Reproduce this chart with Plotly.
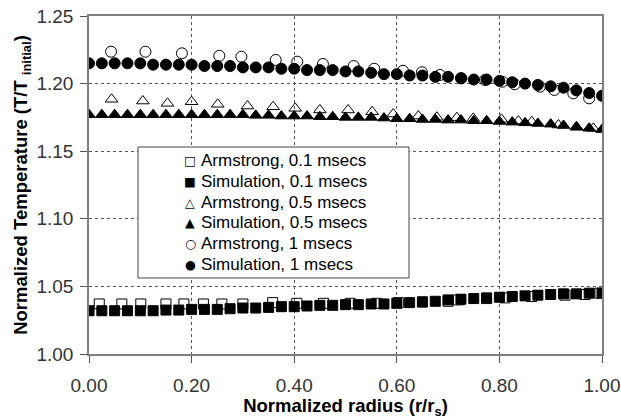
import plotly.graph_objects as go

# Normalized radius grid of the simulation (r/rs)
sim_r = [0.000, 0.025, 0.050, 0.075, 0.100, 0.125, 0.150, 0.175, 0.200, 0.225,
         0.250, 0.275, 0.300, 0.325, 0.350, 0.375, 0.400, 0.425, 0.450, 0.475,
         0.500, 0.525, 0.550, 0.575, 0.600, 0.625, 0.650, 0.675, 0.700, 0.725,
         0.750, 0.775, 0.800, 0.825, 0.850, 0.875, 0.900, 0.925, 0.950, 0.975,
         1.000]

sim_01 = [1.032, 1.032, 1.032, 1.032, 1.032, 1.032, 1.0325, 1.0325, 1.033, 1.033,
          1.033, 1.0335, 1.034, 1.034, 1.0345, 1.035, 1.035, 1.0355, 1.036, 1.036,
          1.0365, 1.0365, 1.037, 1.037, 1.0375, 1.038, 1.0385, 1.039, 1.040, 1.0405,
          1.041, 1.0415, 1.042, 1.0425, 1.043, 1.0435, 1.044, 1.0445, 1.0445, 1.045,
          1.045]

sim_05 = [1.177, 1.177, 1.177, 1.177, 1.177, 1.177, 1.177, 1.177, 1.177, 1.177,
          1.177, 1.177, 1.177, 1.1765, 1.1765, 1.176, 1.176, 1.176, 1.1755, 1.1755,
          1.175, 1.175, 1.175, 1.1745, 1.174, 1.174, 1.1735, 1.1735, 1.173, 1.173,
          1.1725, 1.1725, 1.172, 1.1715, 1.171, 1.1705, 1.170, 1.169, 1.168, 1.167,
          1.166]

sim_1 = [1.215, 1.215, 1.215, 1.215, 1.215, 1.214, 1.214, 1.214, 1.214, 1.213,
         1.213, 1.213, 1.212, 1.212, 1.212, 1.211, 1.211, 1.210, 1.210, 1.210,
         1.209, 1.209, 1.208, 1.207, 1.207, 1.206, 1.206, 1.205, 1.205, 1.204,
         1.203, 1.203, 1.202, 1.201, 1.200, 1.199, 1.198, 1.197, 1.195, 1.193,
         1.191]

# Armstrong reference data
arm01_r = [0.020, 0.064, 0.101, 0.150, 0.185, 0.223, 0.259, 0.300, 0.358, 0.405,
           0.457, 0.509, 0.561, 0.603, 0.650, 0.700, 0.720, 0.775, 0.811, 0.863,
           0.928, 0.967, 0.996]
arm01 = [1.037, 1.037, 1.037, 1.037, 1.037, 1.037, 1.037, 1.037, 1.038, 1.0375,
         1.0375, 1.0375, 1.0375, 1.038, 1.0385, 1.039, 1.040, 1.041, 1.0415, 1.0425,
         1.0435, 1.044, 1.045]

arm05_r = [0.044, 0.105, 0.153, 0.200, 0.251, 0.309, 0.359, 0.402, 0.450, 0.505,
           0.552, 0.593, 0.642, 0.678, 0.717, 0.749, 0.804, 0.837, 0.863, 0.915,
           0.951, 0.983]
arm05 = [1.1884, 1.1871, 1.1854, 1.1866, 1.1847, 1.1834, 1.1829, 1.1817, 1.1805, 1.1805,
         1.1792, 1.1775, 1.1760, 1.1751, 1.1748, 1.1743, 1.1736, 1.1723, 1.1718, 1.1694,
         1.1677, 1.1669]

arm1_r = [0.043, 0.110, 0.181, 0.254, 0.297, 0.364, 0.406, 0.456, 0.516, 0.556,
          0.612, 0.649, 0.684, 0.726, 0.772, 0.806, 0.830, 0.879, 0.907, 0.944,
          0.975]
arm1 = [1.2236, 1.2236, 1.2224, 1.2206, 1.2199, 1.2175, 1.2162, 1.2145, 1.2130, 1.2110,
        1.2095, 1.2084, 1.2064, 1.2039, 1.2027, 1.2014, 1.1995, 1.1977, 1.1953, 1.1928,
        1.1891]

x_ticks = [0.0, 0.2, 0.4, 0.6, 0.8, 1.0]
y_ticks = [1.00, 1.05, 1.10, 1.15, 1.20, 1.25]

legend_names = ["Armstrong, 0.1 msecs", "Simulation, 0.1 msecs",
                "Armstrong, 0.5 msecs", "Simulation, 0.5 msecs",
                "Armstrong, 1 msecs", "Simulation, 1 msecs"]
symbols = ["square-open", "square", "triangle-up-open", "triangle-up",
           "circle-open", "circle"]
key_glyphs = ["\u25A1", "\u25A0", "\u25B3", "\u25B2", "\u25CB", "\u25CF"]
series_x = [arm01_r, sim_r, arm05_r, sim_r, arm1_r, sim_r]
series_y = [arm01, sim_01, arm05, sim_05, arm1, sim_1]

FONT = "Arial, Liberation Sans, sans-serif"
GLYPH_FONT = "DejaVu Sans, sans-serif"

fig = go.Figure()

# open (reference) markers first so the filled simulation markers sit on top
for k in [0, 2, 4, 1, 3, 5]:
    sym = symbols[k]
    fig.add_trace(go.Scatter(
        x=series_x[k], y=series_y[k], mode="markers", name=legend_names[k],
        showlegend=False,
        marker=dict(symbol=sym, size=10 if "square" in sym else 11,
                    color="black", line=dict(color="black", width=1)),
    ))

# boxed key: opaque frame above the grid, glyph + label annotations on top
key_left, key_right, key_top, key_bottom = 0.0955, 0.6238, 0.6124, 0.2249
row_step = 0.0615
row0 = 0.5725
sym_x = 0.197
text_x = 0.214
key_rows = [row0 - i * row_step for i in range(len(legend_names))]

fig.add_shape(type="rect", xref="paper", yref="paper",
              x0=key_left, x1=key_right, y0=key_bottom, y1=key_top,
              line=dict(color="#444444", width=1), fillcolor="white",
              layer="above")

for k, name in enumerate(legend_names):
    fig.add_annotation(x=sym_x, y=key_rows[k], xref="paper", yref="paper",
                       text=key_glyphs[k], showarrow=False,
                       xanchor="center", yanchor="middle",
                       font=dict(family=GLYPH_FONT, size=12.5, color="black"))
    fig.add_annotation(x=text_x, y=key_rows[k], xref="paper", yref="paper",
                       text=name, showarrow=False, xanchor="left", yanchor="middle",
                       font=dict(family=FONT, size=17, color="black"))

axis_common = dict(
    showline=True, linecolor="#7f7f7f", linewidth=1.5, mirror=True,
    showgrid=True, gridcolor="#555555", griddash="dot", gridwidth=1,
    ticks="outside", ticklen=7, tickcolor="#555555",
    tickfont=dict(family=FONT, size=19, color="#333333"),
    zeroline=False, automargin=False,
)

fig.update_layout(
    width=621, height=419,
    margin=dict(l=89, r=19, t=16, b=65),
    paper_bgcolor="white", plot_bgcolor="white",
    font=dict(family=FONT, color="black"),
    showlegend=False,
    xaxis=dict(axis_common, range=[0, 1], tickvals=x_ticks,
               ticktext=[f"{v:.2f}" for v in x_ticks],
               ticklabelstandoff=6,
               title=dict(text="<b>Normalized radius (r/r<sub>s</sub>)</b>",
                          font=dict(family=FONT, size=18.5, color="black"),
                          standoff=2)),
    yaxis=dict(axis_common, range=[1.0, 1.25], tickvals=y_ticks,
               ticktext=[f"{v:.2f}" for v in y_ticks],
               ticklabelstandoff=3,
               title=dict(text="<b>Normalized Temperature (T/T <sub>initial</sub>)</b>",
                          font=dict(family=FONT, size=18.5, color="black"),
                          standoff=4)),
)

fig.write_html("out.html")
